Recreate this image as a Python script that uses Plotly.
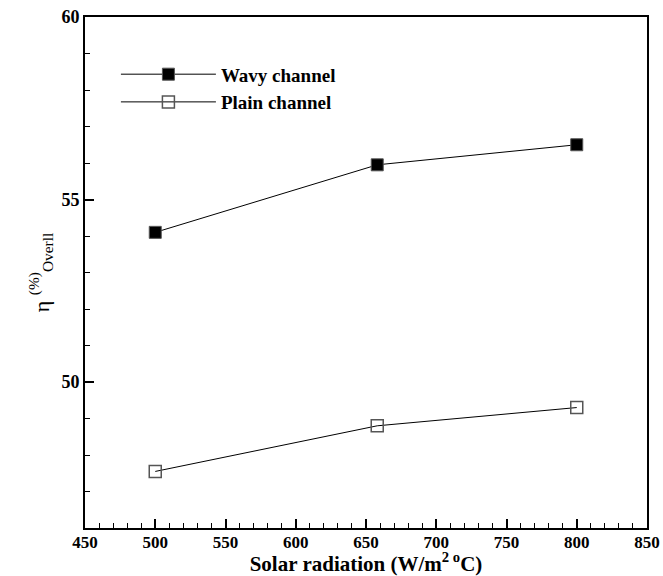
import plotly.graph_objects as go

radiation = [500, 658, 800]
wavy = [54.1, 55.95, 56.5]
plain = [47.55, 48.8, 49.3]
series_names = ["Wavy channel", "Plain channel"]

font_fam = "Liberation Serif, Times New Roman, serif"

fig = go.Figure()
fig.add_trace(go.Scatter(
    x=radiation, y=wavy, name=series_names[0], mode="lines+markers",
    line=dict(color="black", width=1),
    marker=dict(symbol="square", size=12, color="black", line=dict(color="#555", width=1)),
))
fig.add_trace(go.Scatter(
    x=radiation, y=plain, name=series_names[1], mode="lines+markers",
    line=dict(color="black", width=1),
    marker=dict(symbol="square-open", size=12, color="#555", line=dict(width=1.5)),
))

fig.update_layout(
    width=663, height=576,
    margin=dict(l=85, r=16, t=17, b=48),
    plot_bgcolor="white", paper_bgcolor="white",
    font=dict(family=font_fam, color="black"),
    showlegend=True,
    legend=dict(
        x=0.055, y=0.925, xanchor="left", yanchor="top",
        bgcolor="rgba(0,0,0,0)", itemwidth=95,
        font=dict(size=19, family=font_fam, weight="bold"),
        tracegroupgap=0, itemsizing="trace",
    ),
)
fig.update_xaxes(
    range=[450, 850], dtick=50, tick0=450, automargin=False,
    showgrid=False, zeroline=False,
    showline=True, linecolor="black", linewidth=2, mirror=True,
    ticks="inside", ticklen=9, tickwidth=1.5, tickcolor="black",
    minor=dict(dtick=10, ticks="inside", ticklen=5, tickwidth=1, tickcolor="black"),
    tickfont=dict(size=17, family=font_fam, weight="bold"),
    ticklabelstandoff=-2,
    title=dict(text="Solar radiation (W/m<sup>2 o</sup>C)", standoff=0,
               font=dict(size=21, family=font_fam, weight="bold")),
)
fig.update_yaxes(
    range=[46, 60], dtick=5, tick0=50, automargin=False,
    showgrid=False, zeroline=False,
    showline=True, linecolor="black", linewidth=2, mirror=True,
    ticks="inside", ticklen=9, tickwidth=1.5, tickcolor="black",
    minor=dict(dtick=1, ticks="inside", ticklen=5, tickwidth=1, tickcolor="black"),
    tickfont=dict(size=18, family=font_fam, weight="bold"),
    title=dict(text="η <sup>(%)</sup><sub>Overll</sub>", standoff=6,
               font=dict(size=22, family=font_fam)),
)

fig.write_html("out.html")
